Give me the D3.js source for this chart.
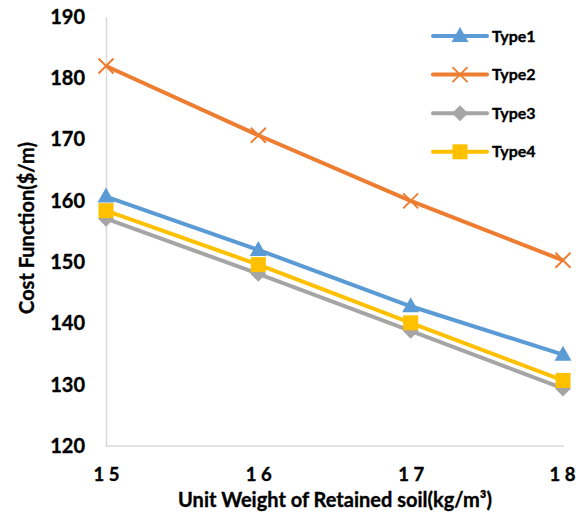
<!DOCTYPE html>
<html>
<head>
<meta charset="utf-8">
<script src="https://cdn.jsdelivr.net/npm/d3@7/dist/d3.min.js"></script>
<style>
  html, body { margin: 0; padding: 0; background: #fff; }
  svg { display: block; font-family: Lato, "Open Sans", sans-serif; font-weight: bold; }
  svg text { stroke: #000; stroke-width: 0.35px; }
</style>
</head>
<body>
<svg id="chart" width="576" height="514"></svg>
<script>
// Unit weight of retained soil (kg/m³)
const categories = [15, 16, 17, 18];
const xTickLabels = ["1 5", "1 6", "1 7", "1 8"];
const yTicks = [120, 130, 140, 150, 160, 170, 180, 190];

// Cost function ($/m) for each design type
const seriesNames = ["Type1", "Type2", "Type3", "Type4"];
const type1 = [160.7, 152.0, 142.8, 134.9];
const type2 = [182.0, 170.7, 160.0, 150.3];
const type3 = [157.1, 148.1, 138.8, 129.4];
const type4 = [158.4, 149.6, 140.1, 130.7];

const colors = ["#5B9BD5", "#ED7D31", "#A5A5A5", "#FFC000"];
const markers = ["triangle", "x", "diamond", "square"];

const series = [type1, type2, type3, type4].map((vals, i) => ({
  name: seriesNames[i], color: colors[i], marker: markers[i],
  points: vals.map((v, j) => ({ x: categories[j], y: v }))
}));

const svg = d3.select("#chart");
const plotLeft = 106, plotRight = 563, plotTop = 17, plotBottom = 446;

const x = d3.scaleLinear().domain([15, 18]).range([plotLeft, plotRight]);
const y = d3.scaleLinear().domain([120, 190]).range([plotBottom, plotTop]);

// Axes
const yAxis = svg.append("g")
  .attr("transform", `translate(${plotLeft},0)`)
  .call(d3.axisLeft(y).tickValues(yTicks).tickFormat(d3.format("d")).tickSize(0).tickPadding(21));
const xAxis = svg.append("g")
  .attr("transform", `translate(0,${plotBottom})`)
  .call(d3.axisBottom(x).tickValues(categories).tickFormat((d, i) => xTickLabels[i]).tickSize(0).tickPadding(22));

[yAxis, xAxis].forEach(g => {
  g.select(".domain").attr("stroke", "#d9d9d9").attr("stroke-width", 1.5);
  g.selectAll("text").attr("fill", "#000").style("font-family", "Lato, sans-serif")
    .style("font-weight", "bold").style("font-size", "20px");
});
xAxis.select(".domain").attr("d", `M${plotLeft},0H${plotRight + 1}`);
xAxis.selectAll("text").style("font-size", "18.5px");
// keep the last label inside the canvas
xAxis.selectAll(".tick:last-of-type text").attr("x", -1);

// Axis titles
svg.append("text")
  .attr("transform", "translate(34,228) rotate(-90)")
  .attr("text-anchor", "middle")
  .style("font-size", "20px")
  .text("Cost Function($/m)");
svg.append("text")
  .attr("x", 335).attr("y", 507)
  .attr("text-anchor", "middle")
  .style("font-size", "20px")
  .text("Unit Weight of Retained soil(kg/m³)");

// Marker shapes
function drawMarker(g, kind, color) {
  if (kind === "triangle") {
    g.append("path").attr("d", "M0,-9L8.5,6L-8.5,6Z").attr("fill", color);
  } else if (kind === "square") {
    g.append("rect").attr("x", -7.5).attr("y", -7.5).attr("width", 15).attr("height", 15).attr("fill", color);
  } else if (kind === "diamond") {
    g.append("path").attr("d", "M0,-8L8,0L0,8L-8,0Z").attr("fill", color);
  } else if (kind === "x") {
    g.append("path").attr("d", "M-7.5,-7.5L7.5,7.5M-7.5,7.5L7.5,-7.5")
      .attr("stroke", color).attr("stroke-width", 2).attr("fill", "none");
  }
}

const line = d3.line().x(d => x(d.x)).y(d => y(d.y));

series.forEach(s => {
  const g = svg.append("g");
  g.append("path").datum(s.points)
    .attr("d", line)
    .attr("fill", "none")
    .attr("stroke", s.color)
    .attr("stroke-width", 4)
    .attr("stroke-linejoin", "round");
  s.points.forEach(p => {
    drawMarker(g.append("g").attr("transform", `translate(${x(p.x)},${y(p.y)})`), s.marker, s.color);
  });
});

// Legend
const legend = svg.append("g");
series.forEach((s, i) => {
  const ly = 36 + i * 38.6;
  const item = legend.append("g").attr("transform", `translate(0,${ly})`);
  item.append("line").attr("x1", 433).attr("x2", 487).attr("y1", 0).attr("y2", 0)
    .attr("stroke", s.color).attr("stroke-width", 4).attr("stroke-linecap", "round");
  drawMarker(item.append("g").attr("transform", "translate(460,0)"), s.marker, s.color);
  item.append("text").attr("x", 492).attr("y", 0).attr("dy", "0.35em")
    .style("font-size", "16px").text(s.name);
});
</script>
</body>
</html>
